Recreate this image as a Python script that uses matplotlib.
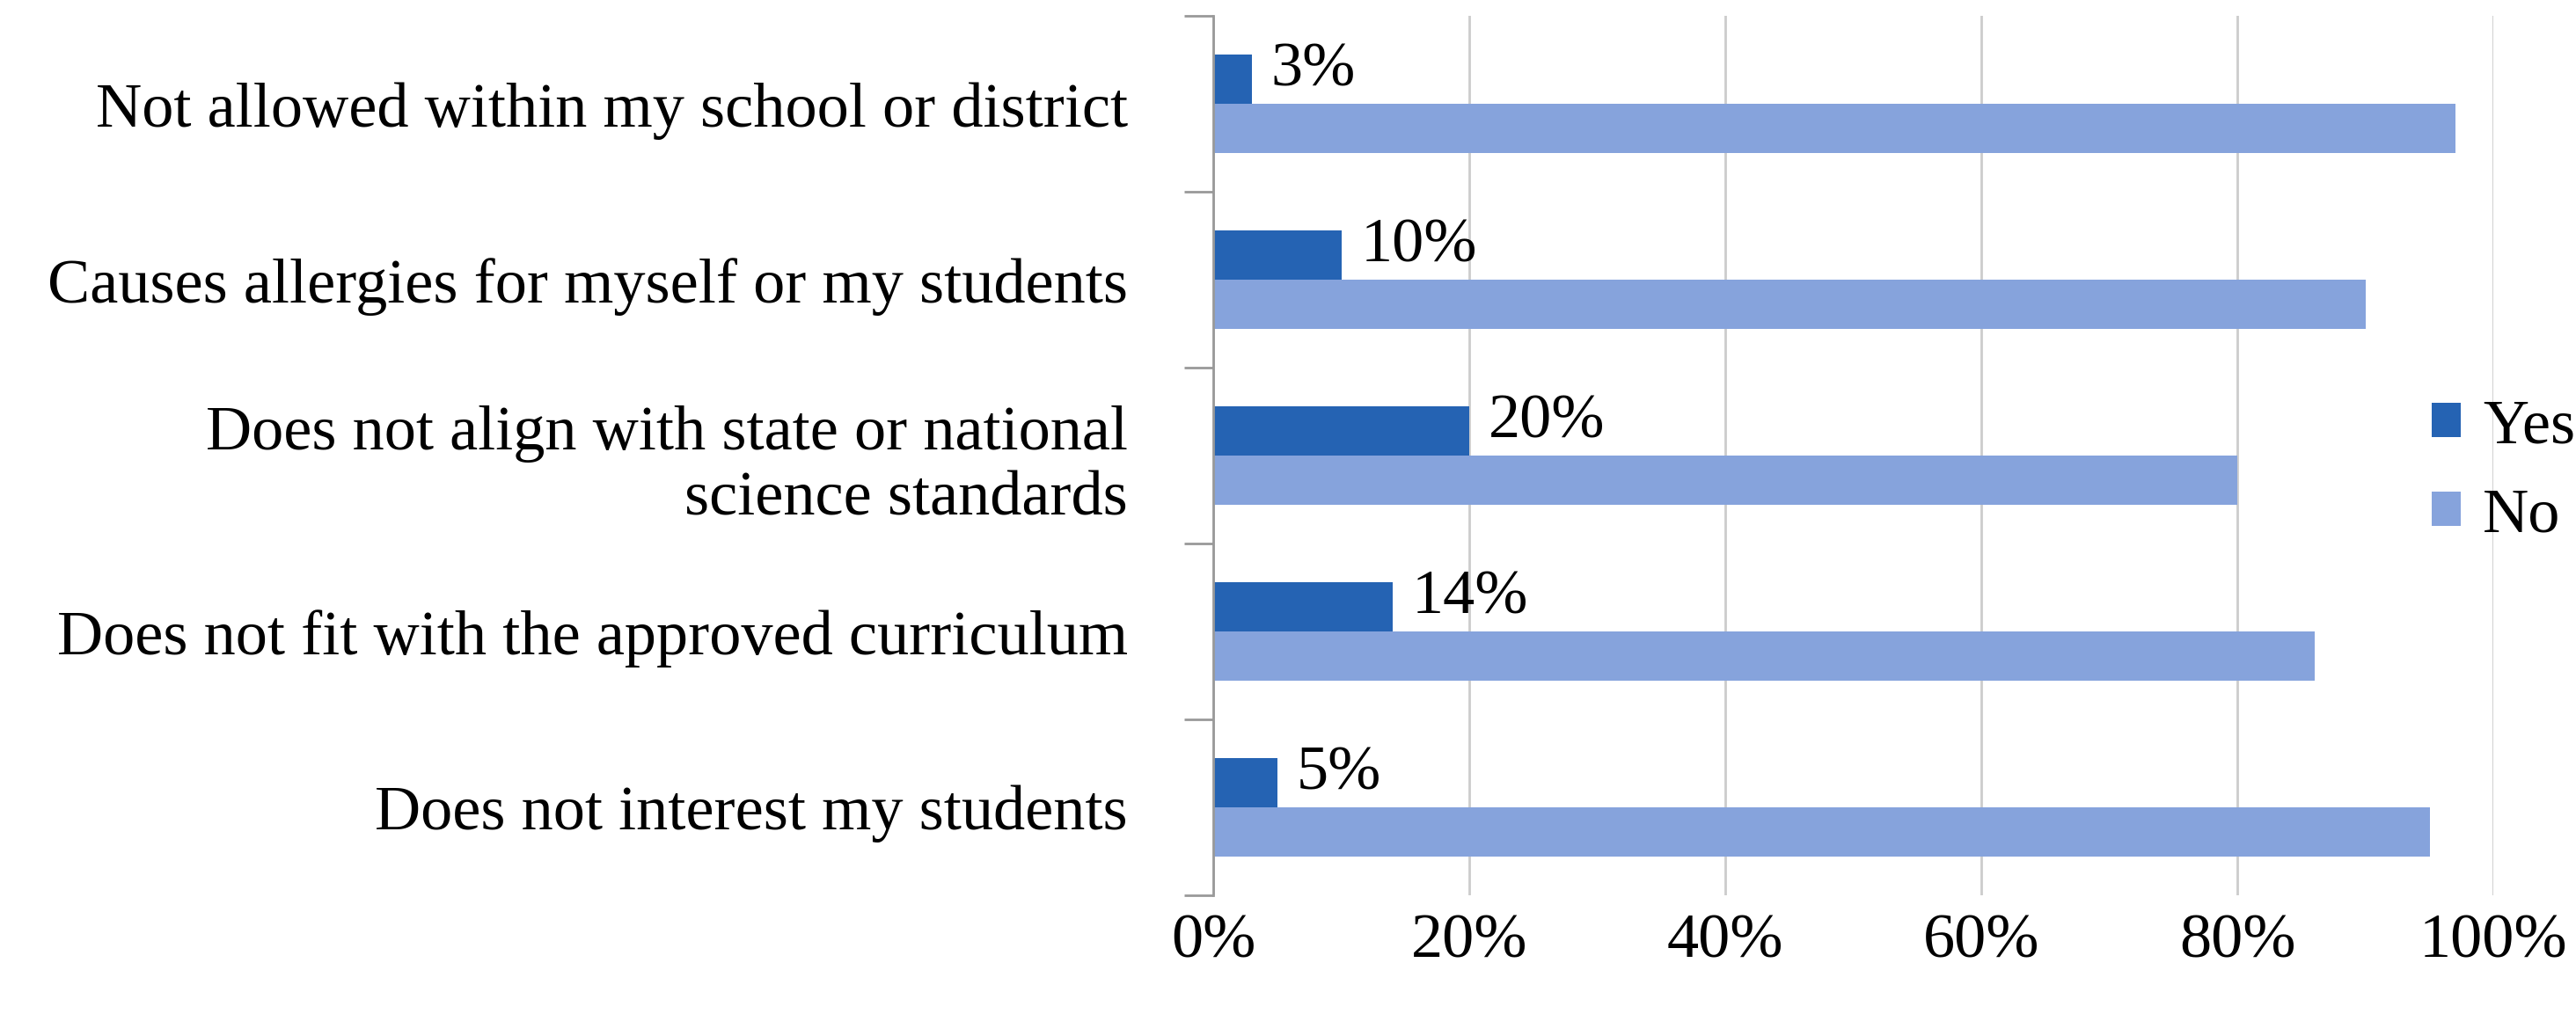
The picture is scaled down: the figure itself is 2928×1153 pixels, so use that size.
import matplotlib
matplotlib.use("Agg")
import matplotlib.pyplot as plt
import numpy as np

categories = ["Not allowed within my school or district",
              "Causes allergies for myself or my students",
              "Does not align with state or national\nscience standards",
              "Does not fit with the approved curriculum",
              "Does not interest my students"]
yes = [3, 10, 20, 14, 5]
no = [97, 90, 80, 86, 95]
xticks = [0, 20, 40, 60, 80, 100]

plt.rcParams['font.family'] = ['Liberation Serif', 'DejaVu Serif']
FS = 52
fig = plt.figure(figsize=(29.28, 11.53), dpi=100)
ax = fig.add_axes([0.471, 0.117, 0.497, 0.867])
y = np.arange(len(categories))
h = 0.28
ax.barh(y - 0.14, yes, height=h, color='#2563B3', label='Yes')
ax.barh(y + 0.14, no, height=h, color='#86A3DC', label='No')
for yi, v in zip(y, yes):
    ax.text(v + 1.5, yi - 0.19, f"{v}%", va='center', ha='left', fontsize=FS)
ax.set_ylim(len(categories) - 0.5, -0.5)
ax.set_xlim(0, 100)
ax.set_xticks(xticks)
ax.set_xticklabels([f"{t}%" for t in xticks], fontsize=FS)
ax.set_yticks(y)
ax.set_yticklabels(categories, fontsize=FS)
ax.tick_params(axis='y', length=0, pad=70)
ax.set_yticks(np.arange(-0.5, len(categories)), minor=True)
ax.tick_params(axis='y', which='minor', length=24, color='#999999', width=2)
ax.tick_params(axis='x', length=0, pad=15)
for lbl in ax.get_yticklabels():
    lbl.set_multialignment('right')
ax.grid(axis='x', color='#cccccc', linewidth=2)
ax.set_axisbelow(True)
for s in ['top', 'right', 'bottom']:
    ax.spines[s].set_visible(False)
ax.spines['left'].set_color('#999999')
ax.spines['left'].set_linewidth(2)
fig.legend(loc='center left', bbox_to_anchor=(0.944, 0.535), frameon=False,
           fontsize=FS, handlelength=0.45, handleheight=0.45, handletextpad=0.35,
           labelspacing=0.5, borderpad=0, borderaxespad=0)
fig.savefig("out.png", dpi=100)
